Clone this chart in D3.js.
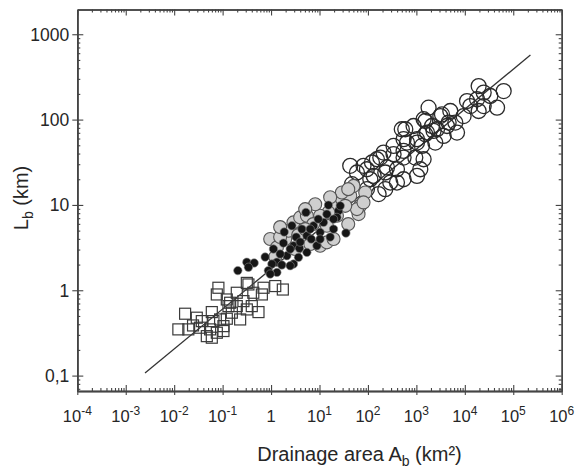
<!DOCTYPE html>
<html><head><meta charset="utf-8">
<script src="https://cdn.jsdelivr.net/npm/d3@7"></script>
<style>body{margin:0;background:#fff}svg text{font-family:"Liberation Sans",Arial,Helvetica,sans-serif;fill:#262626}</style>
</head><body><svg id="c" width="583" height="469"></svg>
<script>
// ---- data (A_b in km², L_b in km) ----
const squaresPts = [[0.0122,0.348],[0.0196,0.348],[0.0168,0.531],[0.0293,0.477],[0.0372,0.435],[0.0598,0.278],[0.0552,0.348],[0.0759,0.318],[0.0598,0.555],[0.0887,0.455],[0.122,0.464],[0.0818,1.07],[0.0759,0.893],[0.122,0.78],[0.196,0.935],[0.341,1.17],[0.646,0.893],[0.55,0.555],[0.316,0.596],[0.196,0.652],[0.155,0.546],[0.143,0.714],[0.269,0.746],[1.22,1.12],[0.23,0.455],[0.104,0.38],[0.0472,0.29],[0.0343,0.364],[0.0646,0.435],[1.75,1.02],[0.40,0.652],[0.43,0.935],[0.104,0.333],[0.316,1.22],[0.70,1.07],[0.132,0.652],[0.0245,0.387]];
const blackPts = [[0.206,1.70],[0.316,2.13],[0.448,2.09],[0.341,1.86],[5.24,8.17],[35.1,4.68],[24.7,8.53],[14.2,7.8],[19.5,5.21],[10.3,4.77],[5.49,4.35],[8.84,3.32],[2.90,3.32],[1.80,3.57],[1.12,3.04],[2.69,5.70],[4.33,5.21],[7.52,5.70],[12.1,6.24],[15.3,9.95],[22.9,7.14],[3.68,2.43],[2.12,2.54],[1.32,2.13],[1.04,2.03],[0.88,1.70],[1.32,1.62],[2.90,2.03],[5.49,2.78],[10.3,3.98],[19.5,6.82],[26.8,9.76],[1.67,1.98],[2.48,1.94],[3.86,3.10],[6.74,3.98],[3.30,4.2],[1.54,2.66],[0.755,2.45],[0.96,1.55],[1.87,4.81],[9.4,6.82],[6.43,5.21],[3.99,3.67],[16.6,4.2],[2.48,3.04]];
const greyPts = [[0.96,3.98],[1.32,3.18],[1.96,3.98],[2.29,4.98],[2.90,6.24],[3.99,7.14],[5.49,7.46],[10.3,3.32],[14.2,3.64],[19.5,3.98],[19.5,10.2],[29,11.7],[43.1,12.8],[69.3,9.76],[64,7.8],[87.9,14],[50.4,16.7],[59.3,8.93],[22.9,7.46],[34,9.76],[15.3,8.17],[10.3,7.46],[7.41,5.96],[3.63,4.43],[1.54,4.2],[6.46,3.48],[29,14],[14.2,5.70],[39.2,5.96],[3.15,3.04],[1.22,2.45],[81,10.7],[5.07,5.21],[8.15,10.2],[5.07,8.93],[39.2,15.3],[16.6,12.3],[1.54,5.5]];
const openPts = [[43.1,28.7],[59.3,24],[81.1,28.7],[131,21.9],[121,31.4],[180,35.9],[247,27.5],[338,39.3],[397,26.2],[544,20],[289,18.3],[166,13.4],[95.3,15.3],[69.3,12.8],[228,15.3],[338,49.1],[544,58.9],[949,35.9],[1030,53.8],[1409,34.3],[1204,26.2],[544,35.9],[590,77.1],[875,84.1],[1409,101],[1786,138],[2100,84.1],[1656,70.5],[2665,77.1],[3380,115],[5017,126],[4290,84.1],[6366,92.2],[6900,70.5],[3650,64.3],[9440,110],[13000,144],[17900,173],[19300,247],[24500,144],[33600,189],[46300,138],[63400,216],[24500,207],[11100,165],[2457,53.8],[1030,21.9],[397,18.3],[153,34.3],[228,24],[46.7,17.5],[95.3,26.2],[112,20],[1528,96.3],[3120,110],[4630,92.2],[500,77.1],[2265,73.6],[1528,67.3],[1030,58.9],[640,53.8],[544,42.9],[210,41.1],[1306,49.1],[19300,126]];
const fitA = [0.0025, 226000];
const fitL = [0.107, 570];
const xTickExp = [-4,-3,-2,-1,0,1,2,3,4,5,6];
const yTickVals = [0.1,1,10,100,1000];
const yTickLabels = ["0,1","1","10","100","1000"];

// ---- layout ----
const L=77.3, R=561.7, T=9.5, B=391;
const svg = d3.select("#c");
const x = d3.scaleLog().domain([1e-4,1e6]).range([L,R]);
const y = d3.scaleLog().domain([0.066,1950]).range([B,T]);

const xMajor = xTickExp.map(e=>Math.pow(10,e));
const xMinor = [];
for (let e=-4;e<6;e++) for (let k=2;k<=9;k++) xMinor.push(k*Math.pow(10,e));
const yMinor = [];
for (let e=-2;e<4;e++) for (let k=2;k<=9;k++){const v=k*Math.pow(10,e); if(v>0.066&&v<1950) yMinor.push(v);}

// fit line
svg.append("line")
  .attr("x1",x(fitA[0])).attr("y1",y(fitL[0]))
  .attr("x2",x(fitA[1])).attr("y2",y(fitL[1]))
  .attr("stroke","#333").attr("stroke-width",1.3);

// open circles
svg.append("g").selectAll("circle").data(openPts).join("circle")
  .attr("cx",d=>x(d[0])).attr("cy",d=>y(d[1])).attr("r",7.5)
  .attr("fill","none").attr("stroke","#2a2a2a").attr("stroke-width",1.3);
// squares
const s=11;
svg.append("g").selectAll("rect").data(squaresPts).join("rect")
  .attr("x",d=>x(d[0])-s/2).attr("y",d=>y(d[1])-s/2).attr("width",s).attr("height",s)
  .attr("fill","none").attr("stroke","#3a3a3a").attr("stroke-width",1.2);
// grey circles
svg.append("g").selectAll("circle").data(greyPts).join("circle")
  .attr("cx",d=>x(d[0])).attr("cy",d=>y(d[1])).attr("r",6.5)
  .attr("fill","#cfcfcf").attr("stroke","#555").attr("stroke-width",1.1);
// black dots
svg.append("g").selectAll("circle").data(blackPts).join("circle")
  .attr("cx",d=>x(d[0])).attr("cy",d=>y(d[1])).attr("r",4.2)
  .attr("fill","#161616").attr("stroke","#888").attr("stroke-width",0.6);

// ---- axes ----
function styleAxis(g){ g.selectAll("path.domain").attr("stroke","#444").attr("stroke-width",1.4);
  g.selectAll(".tick line").attr("stroke","#444").attr("stroke-width",1.1); }
const mk = (gen, tr) => svg.append("g").attr("transform",tr).call(gen).call(styleAxis);
// bottom
mk(d3.axisBottom(x).tickValues(xMajor).tickSizeInner(-6).tickSizeOuter(0).tickFormat(""),`translate(0,${B})`);
mk(d3.axisBottom(x).tickValues(xMajor).tickSizeInner(4).tickSizeOuter(0).tickFormat(""),`translate(0,${B})`);
mk(d3.axisBottom(x).tickValues(xMinor).tickSizeInner(-3).tickSizeOuter(0).tickFormat(""),`translate(0,${B})`);
// top
mk(d3.axisTop(x).tickValues(xMajor).tickSizeInner(-6).tickSizeOuter(0).tickFormat(""),`translate(0,${T})`);
mk(d3.axisTop(x).tickValues(xMinor).tickSizeInner(-3).tickSizeOuter(0).tickFormat(""),`translate(0,${T})`);
// left
mk(d3.axisLeft(y).tickValues(yTickVals).tickSizeInner(-6).tickSizeOuter(0).tickFormat(""),`translate(${L},0)`);
mk(d3.axisLeft(y).tickValues(yTickVals).tickSizeInner(5).tickSizeOuter(0).tickFormat(""),`translate(${L},0)`);
mk(d3.axisLeft(y).tickValues(yMinor).tickSizeInner(-3).tickSizeOuter(0).tickFormat(""),`translate(${L},0)`);
// right
mk(d3.axisRight(y).tickValues(yTickVals).tickSizeInner(-6).tickSizeOuter(0).tickFormat(""),`translate(${R},0)`);
mk(d3.axisRight(y).tickValues(yMinor).tickSizeInner(-3).tickSizeOuter(0).tickFormat(""),`translate(${R},0)`);

// y tick labels
svg.append("g").selectAll("text").data(yTickVals).join("text")
  .attr("x",L-8).attr("y",d=>y(d)).attr("dy","0.36em").attr("text-anchor","end")
  .attr("font-size",17.5).text((d,i)=>yTickLabels[i]);
// x tick labels
const xl = svg.append("g").selectAll("text").data(xTickExp).join("text")
  .attr("x",e=>x(Math.pow(10,e))).attr("y",B+31).attr("text-anchor","middle").attr("font-size",16.5);
xl.each(function(e){
  const t=d3.select(this);
  if(e===0){ t.text("1"); return; }
  t.append("tspan").text("10");
  t.append("tspan").attr("dy",-7).attr("font-size",12).text(e<0?"-"+(-e):String(e));
});
// axis titles
const xt = svg.append("text").attr("x",(L+R)/2+40).attr("y",461).attr("text-anchor","middle").attr("font-size",20);
xt.append("tspan").text("Drainage area A");
xt.append("tspan").attr("font-size",14).attr("dy",5).text("b");
xt.append("tspan").attr("dy",-5).text(" (km²)");
const yt = svg.append("text").attr("transform",`translate(28,${198}) rotate(-90)`).attr("text-anchor","middle").attr("font-size",20);
yt.append("tspan").text("L");
yt.append("tspan").attr("font-size",14).attr("dy",5).text("b");
yt.append("tspan").attr("dy",-5).text(" (km)");
</script></body></html>
